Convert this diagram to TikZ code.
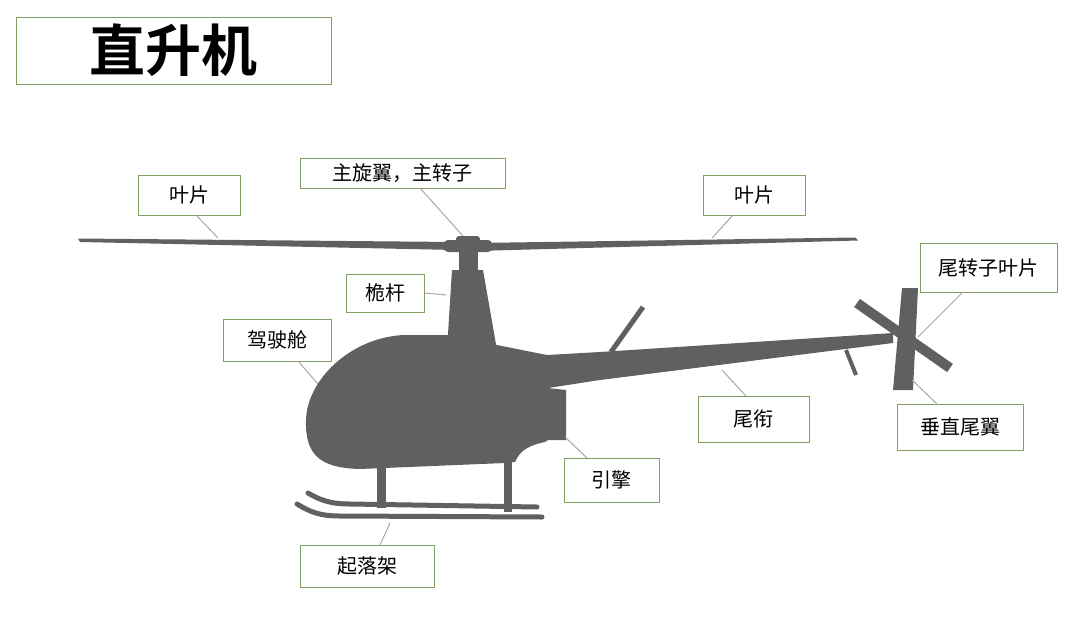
\documentclass[tikz,border=0pt]{standalone}
\usepackage{fontspec}
\newfontfamily\cjk{Noto Sans CJK SC}
\newfontfamily\cjkb{Noto Sans CJK SC Bold}
\definecolor{heli}{HTML}{606060}
\definecolor{gbox}{HTML}{7FA060}
\definecolor{lead}{HTML}{A8A8A8}
\begin{document}
\begin{tikzpicture}[x=1pt,y=-1pt,
  lbl/.style={draw=gbox,line width=0.9pt,fill=white,font=\cjk\fontsize{20}{20}\selectfont,inner sep=0pt},
  ld/.style={draw=lead,line width=1pt},
  hp/.style={fill=heli,draw=none}]
\useasboundingbox (0,0) rectangle (1086,640);
% title
\node[draw=gbox,line width=0.9pt,minimum width=315pt,minimum height=67pt,inner sep=0pt,font=\cjkb\fontsize{56}{56}\selectfont] (title) at (173.5,50.5) {直升机};
% helicopter
\fill[hp] (78,238.5) -- (455,242) -- (455,250) -- (80,242) -- cycle;
\fill[hp] (475,243) -- (855,237.5) -- (858,240.5) -- (475,251) -- cycle;
\fill[hp,rounded corners=4pt] (444,240) rectangle (492,252);
\fill[hp,rounded corners=3pt] (456,236) rectangle (480,245);
\fill[hp] (459,250) rectangle (478,273);
\fill[hp] (452,270) -- (483,270) -- (497,350) -- (447,350) -- cycle;
\fill[hp] (447,335) -- (403,335) .. controls (350,338) and (307,380) .. (306,420)
  .. controls (305,455) and (320,468) .. (360,469) -- (505,463) -- (515,462)
  .. controls (520,450) and (530,445) .. (545,442) -- (548,440) -- (566,440) -- (566,390) -- (548,388)
  -- (600,380) -- (893,343) -- (893,333) -- (600,352) -- (547,355) -- (497,345) -- cycle;
\fill[hp] (902,288) -- (918,288) -- (913,390) -- (893,390) -- cycle;
\draw[heli,line width=10pt] (857,303) -- (950,368);
\draw[heli,line width=5pt] (611,352) -- (643,307);
\draw[heli,line width=4pt] (846,350) -- (856,375);
\fill[hp] (377,465) rectangle (386,508);
\fill[hp] (504,460) rectangle (512,512);
\draw[heli,line width=5pt,line cap=round] (308,493) .. controls (320,500) and (330,504) .. (350,504) -- (537,507);
\draw[heli,line width=5pt,line cap=round] (297,504) .. controls (310,512) and (320,516) .. (340,516) -- (542,517);
% labels
\node[lbl,minimum width=102pt,minimum height=40pt] (b1) at (189,195) {叶片};
\node[lbl,minimum width=205pt,minimum height=30pt] (mr) at (402.5,173) {主旋翼，主转子};
\node[lbl,minimum width=102pt,minimum height=40pt] (b2) at (754,195) {叶片};
\node[lbl,minimum width=78pt,minimum height=38pt] (mast) at (385,293) {桅杆};
\node[lbl,minimum width=108pt,minimum height=42pt] (cab) at (277,340) {驾驶舱};
\node[lbl,minimum width=137pt,minimum height=49pt] (tr) at (988.5,267.5) {尾转子叶片};
\node[lbl,minimum width=111pt,minimum height=46pt] (boom) at (753.5,419) {尾衔};
\node[lbl,minimum width=126pt,minimum height=46pt] (fin) at (960,427) {垂直尾翼};
\node[lbl,minimum width=95pt,minimum height=44pt] (eng) at (611.5,480) {引擎};
\node[lbl,minimum width=134pt,minimum height=42pt] (gear) at (367,566) {起落架};
% leader ends
\coordinate (p1) at (218,238); \coordinate (p2) at (463,236); \coordinate (p3) at (712,238);
\coordinate (p4) at (446,295); \coordinate (p5) at (318,384); \coordinate (p6) at (918,337);
\coordinate (p7) at (722,370); \coordinate (p8) at (912,380); \coordinate (p9) at (565,437);
\coordinate (p10) at (390,523);
\draw[ld] (196,215) -- (p1);
\draw[ld] (420,188) -- (p2);
\draw[ld] (733,215) -- (p3);
\draw[ld] (mast.east) -- (p4);
\draw[ld] (298,361) -- (p5);
\draw[ld] (963,292) -- (p6);
\draw[ld] (746,396) -- (p7);
\draw[ld] (937,404) -- (p8);
\draw[ld] (587,458) -- (p9);
\draw[ld] (380,545) -- (p10);
\end{tikzpicture}
\end{document}
